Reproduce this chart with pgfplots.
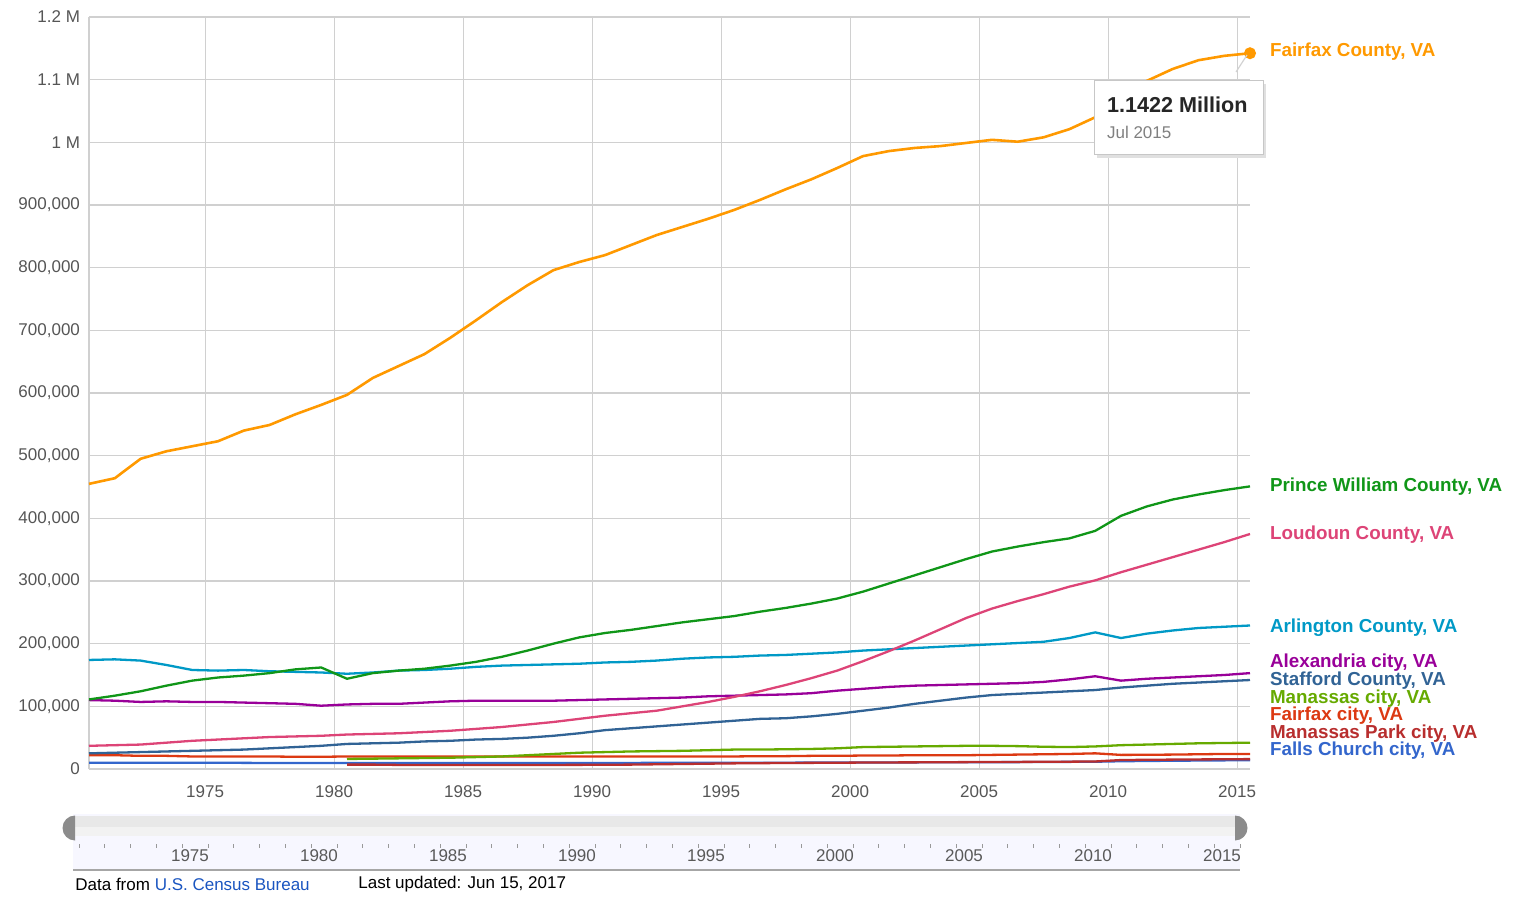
\documentclass[border=0pt]{standalone}
\usepackage{pgfplots}
\pgfplotsset{compat=1.18}
\usepackage{pgfplotstable}
\usepackage{fontspec}
\setmainfont{Liberation Sans}
\definecolor{cFC}{HTML}{FF9900}
\definecolor{cPW}{HTML}{109618}
\definecolor{cLD}{HTML}{DD4477}
\definecolor{cAR}{HTML}{0099C6}
\definecolor{cAX}{HTML}{990099}
\definecolor{cST}{HTML}{316395}
\definecolor{cMC}{HTML}{66AA00}
\definecolor{cFX}{HTML}{DC3912}
\definecolor{cMP}{HTML}{B82E2E}
\definecolor{cFCh}{HTML}{3366CC}
\definecolor{gridc}{HTML}{D0D0D0}
\definecolor{tickc}{HTML}{555555}
% values in thousands of residents
\pgfplotstableread{
yr FC PW LD AR AX ST MC FX MP FCh
1970.5 455 111 37 174 110 25 nan 22 nan 10
1971.5 464 117 38 175 109 26 nan 22 nan 10
1972.5 495 124 39 173 107 27 nan 21 nan 10
1973.5 507 133 42 166 108 28 nan 21 nan 10
1974.5 515 141 45 158 107 29 nan 20 nan 10
1975.5 523 146 47 157 107 30 nan 20 nan 10
1976.5 540 149 49 158 106 31 nan 20 nan 9.8
1977.5 549 153 51 156 105 33 nan 20 nan 9.6
1978.5 566 159 52 155 104 35 nan 19.5 nan 9.5
1979.5 581 162 53 154 101 37 nan 19.5 nan 9.5
1980.5 597 144 55 152 103 40 16 20 7 9.5
1981.5 624 153 56 154 104 41 16.5 20 7 9.5
1982.5 643 157 57 157 104 42 17 20 6.5 9.5
1983.5 662 160 59 158 106 44 17.5 20 6.5 9.4
1984.5 688 165 61 160 108 45 18 20 6.5 9.4
1985.5 716 171 64 163 109 47 19 20 6.5 9.4
1986.5 745 179 67 165 109 48 20 20 6.5 9.5
1987.5 772 189 71 166 109 50 22 20 6.5 9.5
1988.5 796 200 75 167 109 53 24 20 6.5 9.6
1989.5 809 210 80 168 110 57 26 20 6.6 9.6
1990.5 820 217 85 170 111 62 27 20 6.8 9.7
1991.5 836 222 89 171 112 65 28 20 7 9.7
1992.5 852 228 93 173 113 68 28.5 20 7.5 9.8
1993.5 865 234 100 176 114 71 29 20 8 9.8
1994.5 878 239 107 178 116 74 30 20 8.5 9.9
1995.5 892 244 115 179 117 77 31 20 9 10
1996.5 908 251 124 181 118 80 31 20.5 9.3 10
1997.5 925 257 134 182 119 81 31.5 20.5 9.6 10.1
1998.5 941 264 145 184 121 84 32 21 9.8 10.2
1999.5 959 272 157 186 125 88 33 21 10 10.3
2000.5 978 283 172 189 128 93 35 21.5 10.3 10.4
2001.5 986 296 188 191 131 98 35.5 21.5 10.5 10.5
2002.5 991 309 205 193 133 104 36 22 10.6 10.6
2003.5 994 322 223 195 134 109 36.5 22 10.8 10.7
2004.5 999 335 241 197 135 114 37 22 11 10.8
2005.5 1004 347 256 199 136 118 37 22.5 11.2 10.9
2006.5 1001 355 268 201 137 120 36.5 23 11.3 11
2007.5 1008 362 279 203 139 122 35.5 23.5 11.5 11.2
2008.5 1021 368 291 209 143 124 35 24 11.7 11.4
2009.5 1040 380 301 218 148 126 36 25 12 11.6
2010.5 1075 404 314 209 141 130 38 22.5 14.3 12.4
2011.5 1098 419 326 216 144 133 39 22.7 14.7 12.8
2012.5 1117 430 338 221 146 136 40 23 15 13.2
2013.5 1131 438 350 225 148 138 41 23.5 15.3 13.5
2014.5 1138 445 362 227 150 140 41.5 24 15.5 13.8
2015.5 1142.2 451 375 229 153 142 42 24 15.8 14
}\datatable
\begin{document}
\begin{tikzpicture}
\useasboundingbox (0,0) rectangle (758.5pt,448pt);
\begin{axis}[
  at={(44.5pt,63.5pt)}, anchor=south west,
  scale only axis, width=580.5pt, height=376pt,
  xmin=1970.5, xmax=2015.5, ymin=0, ymax=1200,
  xtick={1975,1980,...,2015},
  xticklabels={1975,1980,1985,1990,1995,2000,2005,2010,2015},
  ytick={0,100,...,1200},
  yticklabels={0,{100,000},{200,000},{300,000},{400,000},{500,000},{600,000},{700,000},{800,000},{900,000},1 M,1.1 M,1.2 M},
  grid=major, major grid style={gridc, line width=0.6pt},
  axis x line=bottom, axis y line=left,
  axis line style={gridc, line width=0.8pt, -},
  major tick length=0pt,
  tick label style={font=\fontsize{8.5}{10}\selectfont, text=tickc},
  xticklabel style={yshift=-5pt},
  yticklabel style={xshift=-1pt},
  clip=false,
  every axis plot/.append style={line width=1.15pt, mark=none},
]
\addplot[cFCh] table[x=yr,y=FCh]{\datatable};
\addplot[cMP] table[x=yr,y=MP]{\datatable};
\addplot[cFX] table[x=yr,y=FX]{\datatable};
\addplot[cMC] table[x=yr,y=MC]{\datatable};
\addplot[cST] table[x=yr,y=ST]{\datatable};
\addplot[cAX] table[x=yr,y=AX]{\datatable};
\addplot[cAR] table[x=yr,y=AR]{\datatable};
\addplot[cLD] table[x=yr,y=LD]{\datatable};
\addplot[cPW] table[x=yr,y=PW]{\datatable};
\addplot[cFC, line width=1.3pt] table[x=yr,y=FC]{\datatable};
\addplot[only marks, mark=*, mark size=2.4pt, cFC] coordinates {(2015.5,1142.2)};
\end{axis}
\begin{scope}[x=0.5pt, y=-0.5pt, shift={(0pt,448pt)}, font=\fontsize{8.5}{10}\selectfont]
  % tooltip
  \draw[gray!35, line width=0.6pt] (1236,72) -- (1247,55);
  \fill[black!12] (1097,84) rectangle (1266,158);
  \filldraw[fill=white, draw=black!22, line width=0.5pt] (1094,81) rectangle (1263,155);
  \node[anchor=west, font=\fontsize{10.8}{12}\selectfont\bfseries, text=black!85] at (1100,105) {1.1422 Million};
  \node[anchor=west, text=black!50] at (1100,132) {Jul 2015};
  % right labels
  \begin{scope}[font=\fontsize{9.4}{10}\selectfont\bfseries]
  \node[anchor=west, text=cFC] at (1263,52) {Fairfax County, VA};
  \node[anchor=west, text=cPW] at (1263,487) {Prince William County, VA};
  \node[anchor=west, text=cLD] at (1263,535) {Loudoun County, VA};
  \node[anchor=west, text=cAR] at (1263,628) {Arlington County, VA};
  \node[anchor=west, text=cAX] at (1263,663) {Alexandria city, VA};
  \node[anchor=west, text=cST] at (1263,681) {Stafford County, VA};
  \node[anchor=west, text=cMC] at (1263,699) {Manassas city, VA};
  \node[anchor=west, text=cFX] at (1263,716) {Fairfax city, VA};
  \node[anchor=west, text=cMP] at (1263,734) {Manassas Park city, VA};
  \node[anchor=west, text=cFCh] at (1263,751) {Falls Church city, VA};
  \end{scope}
  % range slider
  \fill[blue!3] (73,814) rectangle (1240,870);
  \fill[black!9] (73,816) rectangle (1240,836);
  \fill[black!5] (73,827) rectangle (1240,836);
  \draw[black!35, line width=0.6pt] (73,870) -- (1240,870);
  \fill[black!45] (75,815.5) arc (-90:-270:12.5) -- cycle;
  \fill[black!45] (1235,815.5) arc (-90:90:12.5) -- cycle;
  \foreach \k in {0,...,45} {
    \draw[black!40, line width=0.5pt] ({79+25.8*\k},844) -- ({79+25.8*\k},848);
  }
  \foreach \yr [count=\i from 0] in {1975,1980,1985,1990,1995,2000,2005,2010,2015} {
    \node[text=black!65] at ({190+129*\i},856) {\yr};
  }
  % footer
  \node[anchor=west, inner sep=0pt] at (75,884) {Data from \textcolor[HTML]{1A55C0}{U.S. Census Bureau}};
  \node[anchor=west, inner sep=0pt] at (358,884) {Last updated: Jun 15, 2017};
\end{scope}
\end{tikzpicture}
\end{document}
